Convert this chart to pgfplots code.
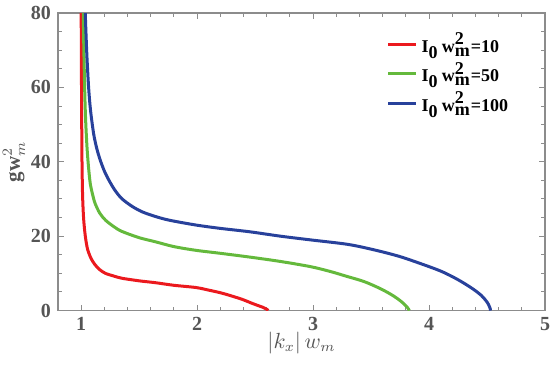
\documentclass[border=0pt]{standalone}
\usepackage{fontspec}
\setmainfont{Liberation Serif}
\usepackage{pgfplots}
\pgfplotsset{compat=1.18}
\definecolor{cred}{RGB}{235,25,30}
\definecolor{cgreen}{RGB}{100,185,60}
\definecolor{cblue}{RGB}{40,65,155}
\definecolor{axgray}{RGB}{140,140,140}
\definecolor{labgray}{RGB}{85,85,85}
\begin{document}
\begin{tikzpicture}
\begin{axis}[
  scale only axis, width=243.5pt, height=148.8pt,
  xmin=0.8, xmax=5, ymin=0, ymax=80,
  xtick={1,2,3,4,5}, ytick={0,20,40,60,80},
  minor x tick num=4, minor y tick num=3,
  major tick length=3pt, minor tick length=1.8pt,
  axis line style={axgray, line width=0.6pt},
  every tick/.style={axgray, line width=0.5pt},
  tick label style={font=\fontsize{10}{11}\selectfont\bfseries, text=labgray},
  /pgf/number format/assume math mode=true,
  xlabel={$|k_x|\,w_m$},
  ylabel={{\bfseries gw}$^{2}_{m}$},
  label style={font=\fontsize{10.5}{11}\selectfont, text=labgray},
  xlabel style={at={(axis description cs:0.5,0)}, anchor=center, yshift=-16pt},
  ylabel style={at={(axis description cs:0,0.5)}, anchor=center, yshift=22pt},
  legend style={draw=none, fill=none, at={(0.670,0.955)}, anchor=north west,
    font=\fontsize{9}{10}\selectfont, row sep=-0.5pt, inner sep=1pt},
  every even column/.append style={column sep=3.5pt},
  legend cell align=left,
  legend image code/.code={\draw[#1, line width=1.5pt] (0pt,0pt) -- (14pt,0pt);},
]
\addplot[cred, line width=1.5pt, smooth] coordinates {
(1.000,80)(1.002,65)(1.004,53)(1.007,40)(1.012,31)(1.02,25.2)(1.03,21.5)(1.04,19)(1.055,16.5)(1.078,14.5)(1.10,13.2)(1.12,12.3)(1.16,11.0)(1.21,10.0)(1.28,9.3)(1.35,8.7)(1.5,8.0)(1.64,7.5)(1.8,6.8)(1.99,6.2)(2.1,5.5)(2.2,4.8)(2.29,4.0)(2.39,3.0)(2.47,2.0)(2.53,1.3)(2.57,0.85)(2.595,0.45)(2.607,0.2)(2.612,0)};
\addlegendentry{$\textbf{I}_{\textbf{0}}\,\textbf{w}^{\textbf{2}}_{\textbf{m}}\textbf{=10}$}
\addplot[cgreen, line width=1.5pt, smooth] coordinates {
(1.018,80)(1.022,72)(1.027,64)(1.033,56)(1.04,50)(1.05,44)(1.062,39)(1.078,34.2)(1.1,31)(1.12,28.8)(1.16,26.2)(1.21,24.3)(1.28,22.6)(1.35,21.3)(1.5,19.6)(1.64,18.5)(1.8,17.2)(1.99,16.2)(2.2,15.4)(2.45,14.4)(2.72,13.2)(2.98,11.8)(3.15,10.5)(3.28,9.3)(3.44,7.8)(3.58,5.9)(3.68,4.2)(3.75,2.7)(3.79,1.6)(3.812,0.9)(3.823,0.4)(3.83,0)};
\addlegendentry{$\textbf{I}_{\textbf{0}}\,\textbf{w}^{\textbf{2}}_{\textbf{m}}\textbf{=50}$}
\addplot[cblue, line width=1.5pt, smooth] coordinates {
(1.035,80)(1.042,74)(1.05,68)(1.064,60)(1.08,54)(1.107,47.6)(1.135,43.5)(1.165,40.4)(1.2,37.5)(1.24,35)(1.29,32.4)(1.35,30.1)(1.44,28)(1.53,26.5)(1.64,25.3)(1.76,24.3)(1.99,23.0)(2.2,22.1)(2.45,21.2)(2.72,20.0)(2.98,19.0)(3.3,17.8)(3.53,16.3)(3.74,14.6)(3.93,12.6)(4.11,10.5)(4.25,8.3)(4.37,6.0)(4.45,4.1)(4.49,2.7)(4.51,1.8)(4.522,1.0)(4.528,0.45)(4.53,0)};
\addlegendentry{$\textbf{I}_{\textbf{0}}\,\textbf{w}^{\textbf{2}}_{\textbf{m}}\textbf{=100}$}
\end{axis}
\pgfresetboundingbox
\path[use as bounding box] ([shift={(-29pt,-33.2pt)}]current axis.south west) rectangle ([shift={(2.5pt,6.5pt)}]current axis.north east);
\end{tikzpicture}
\end{document}
